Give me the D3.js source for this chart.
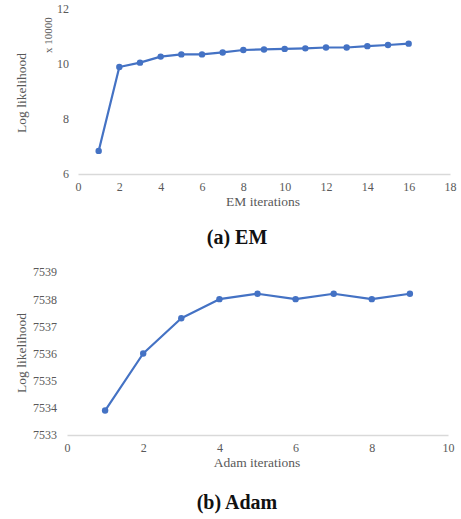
<!DOCTYPE html>
<html>
<head>
<meta charset="utf-8">
<script src="https://cdn.jsdelivr.net/npm/d3@7"></script>
<style>
  body { margin: 0; background: #fff; }
  svg text { font-family: "Liberation Serif", serif; }
</style>
</head>
<body>
<div id="chart"></div>
<script>
// EM chart (values in units of 10000)
var emIterations = [1, 2, 3, 4, 5, 6, 7, 8, 9, 10, 11, 12, 13, 14, 15, 16];
var emLogLik = [6.84, 9.89, 10.05, 10.27, 10.35, 10.35, 10.42, 10.51, 10.53, 10.55, 10.57, 10.6, 10.6, 10.65, 10.69, 10.74];
var emXTicks = [0, 2, 4, 6, 8, 10, 12, 14, 16, 18];
var emYTicks = [6, 8, 10, 12];

// Adam chart
var adamIterations = [1, 2, 3, 4, 5, 6, 7, 8, 9];
var adamLogLik = [7533.9, 7536.0, 7537.3, 7538.0, 7538.2, 7538.0, 7538.2, 7538.0, 7538.2];
var adamXTicks = [0, 2, 4, 6, 8, 10];
var adamYTicks = [7533, 7534, 7535, 7536, 7537, 7538, 7539];

var width = 461, height = 519;
var lineColor = "#4472c4";
var textColor = "#595959";

var svg = d3.select("#chart")
    .append("svg")
    .attr("width", width)
    .attr("height", height);

function drawPanel(opts) {
    var x = d3.scaleLinear().domain(opts.xDomain).range(opts.xRange);
    var y = d3.scaleLinear().domain(opts.yDomain).range(opts.yRange);
    var g = svg.append("g");

    // x axis (no tick marks, light gray baseline)
    var xAxis = d3.axisBottom(x).tickValues(opts.xTicks).tickSize(0).tickPadding(8)
        .tickFormat(d3.format("d"));
    var gx = g.append("g")
        .attr("transform", "translate(0," + opts.yRange[0] + ")")
        .call(xAxis);
    gx.select(".domain").attr("stroke", "#d9d9d9").attr("stroke-width", 1.3);
    gx.selectAll("text")
        .style("font-size", "12px")
        .style("font-family", "Liberation Serif")
        .attr("fill", textColor);

    // y axis (labels only)
    var yAxis = d3.axisLeft(y).tickValues(opts.yTicks).tickSize(0).tickPadding(opts.yPad)
        .tickFormat(d3.format("d"));
    var gy = g.append("g")
        .attr("transform", "translate(" + opts.xRange[0] + ",0)")
        .call(yAxis);
    gy.select(".domain").remove();
    gy.selectAll("text")
        .style("font-size", "12px")
        .style("font-family", "Liberation Serif")
        .attr("fill", textColor);

    var data = opts.xs.map(function(d, i) { return {x: d, y: opts.ys[i]}; });

    var line = d3.line()
        .x(function(d) { return x(d.x); })
        .y(function(d) { return y(d.y); });

    g.append("path")
        .attr("d", line(data))
        .style("fill", "none")
        .style("stroke", lineColor)
        .style("stroke-width", 2.2)
        .style("stroke-linejoin", "round");

    g.selectAll("circle")
        .data(data)
        .enter()
        .append("circle")
        .attr("r", 3.2)
        .attr("cx", function(d) { return x(d.x); })
        .attr("cy", function(d) { return y(d.y); })
        .style("fill", lineColor);

    // y axis title
    g.append("text")
        .attr("transform", "translate(" + opts.yTitleX + "," + opts.yTitleY + ") rotate(-90)")
        .style("text-anchor", "middle")
        .style("font-size", "13.5px")
        .attr("fill", textColor)
        .text("Log likelihood");

    // x axis title
    g.append("text")
        .attr("x", opts.xTitleX)
        .attr("y", opts.xTitleY)
        .style("text-anchor", "middle")
        .style("font-size", "13.5px")
        .attr("fill", textColor)
        .text(opts.xTitle);

    // caption
    g.append("text")
        .attr("x", 237)
        .attr("y", opts.captionY)
        .style("text-anchor", "middle")
        .style("font-size", "20px")
        .style("font-weight", "bold")
        .attr("fill", "#111")
        .text(opts.caption);

    return g;
}

var emPanel = drawPanel({
    xs: emIterations, ys: emLogLik,
    xDomain: [0, 18], xRange: [78, 450],
    yDomain: [6, 12], yRange: [174, 9],
    xTicks: emXTicks, yTicks: emYTicks, yPad: 9,
    yTitleX: 26, yTitleY: 93,
    xTitle: "EM iterations", xTitleX: 263, xTitleY: 206,
    caption: "(a) EM", captionY: 244
});

// multiplier note
emPanel.append("text")
    .attr("transform", "translate(52,35) rotate(-90)")
    .style("text-anchor", "middle")
    .style("font-size", "11px")
    .attr("fill", textColor)
    .text("x 10000");

drawPanel({
    xs: adamIterations, ys: adamLogLik,
    xDomain: [0, 10], xRange: [67, 448],
    yDomain: [7533, 7539], yRange: [435, 272],
    xTicks: adamXTicks, yTicks: adamYTicks, yPad: 10,
    yTitleX: 26, yTitleY: 353,
    xTitle: "Adam iterations", xTitleX: 257, xTitleY: 467,
    caption: "(b) Adam", captionY: 509
});
</script>
</body>
</html>
